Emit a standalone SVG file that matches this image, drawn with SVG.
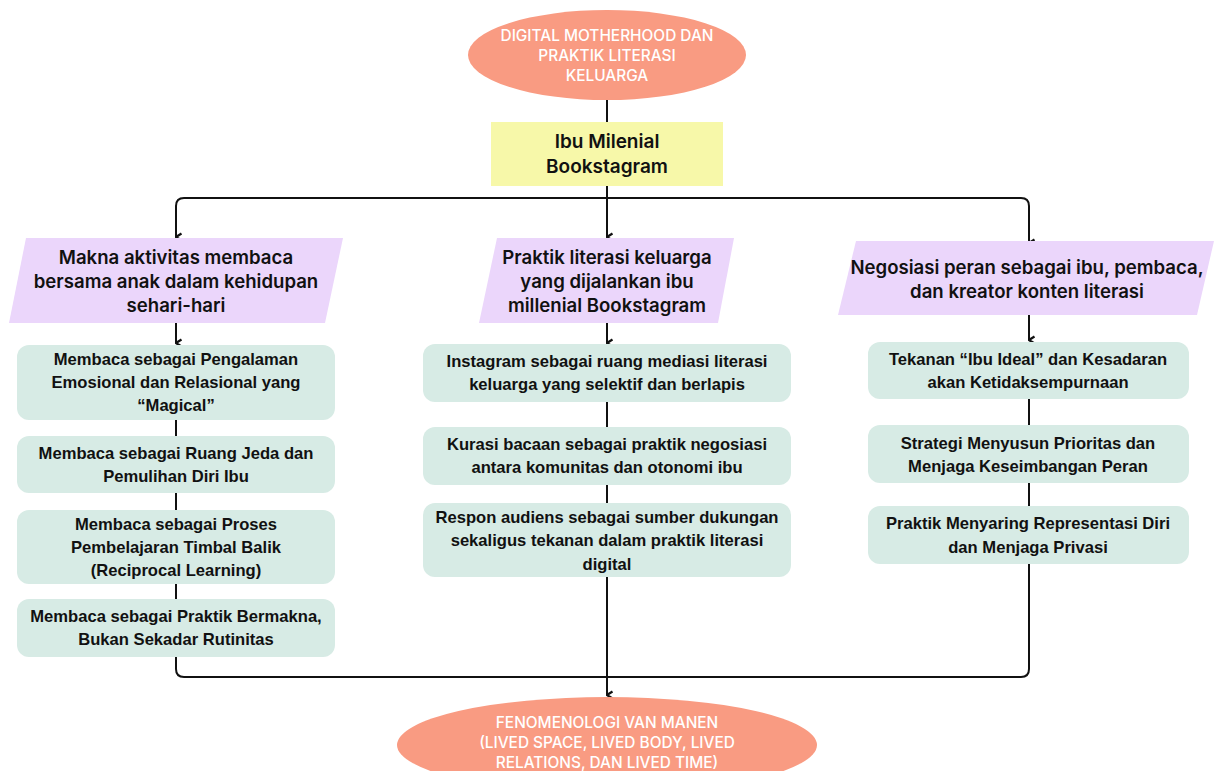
<svg xmlns="http://www.w3.org/2000/svg" width="1214" height="771" viewBox="0 0 1214 771">
<defs>
<marker id="arr" viewBox="0 0 10 10" refX="5" refY="9" markerWidth="10" markerHeight="10" markerUnits="userSpaceOnUse" orient="auto-start-reverse">
<path d="M1.5,3.5 L5,9 L8.5,3.5" fill="none" stroke="#111" stroke-width="2.2"/>
</marker>
<style>
.ell{fill:#F99B82}
.ellt{font-family:Inter,"Open Sans",sans-serif;font-size:15.4px;font-weight:500;fill:#fff;text-anchor:middle;dominant-baseline:central}
.yel{fill:#F7F8A9}
.yelt{font-family:Inter,"Open Sans",sans-serif;font-size:19px;font-weight:600;fill:#111;text-anchor:middle;dominant-baseline:central}
.par{fill:#EBD6FB}
.part{font-family:Inter,"Open Sans",sans-serif;font-size:18.6px;font-weight:600;fill:#111;text-anchor:middle;dominant-baseline:central}
.box{fill:#D7EBE5}
.boxt{font-family:"Liberation Sans",Arial,sans-serif;font-size:16.6px;font-weight:bold;fill:#111;text-anchor:middle;dominant-baseline:central}
.ln{fill:none;stroke:#111;stroke-width:2}
</style>
</defs>
<rect width="1214" height="771" fill="#fff"/>

<g id="connectors">
<path class="ln" d="M607,100 V122"/>
<path class="ln" d="M607,186 V198"/>
<path class="ln" d="M176,236 V206 Q176,198 184,198 H1021 Q1029,198 1029,206 V243" marker-end="url(#arr)"/>
<path class="ln" d="M176,236 V237" marker-end="url(#arr)"/>
<path class="ln" d="M607,198 V237" marker-end="url(#arr)"/>
<path class="ln" d="M176,323 V343" marker-end="url(#arr)"/>
<path class="ln" d="M607,323 V343" marker-end="url(#arr)"/>
<path class="ln" d="M1029,315 V340" marker-end="url(#arr)"/>
<path class="ln" d="M176,420 V436 M176,493 V510 M176,584 V599"/>
<path class="ln" d="M607,402 V427 M607,485 V503"/>
<path class="ln" d="M1029,399 V425 M1029,483 V506"/>
<path class="ln" d="M176,657 V669 Q176,677 184,677 H1021 Q1029,677 1029,669 V564"/>
<path class="ln" d="M607,577 V695" marker-end="url(#arr)"/>
</g>

<g id="top">
<ellipse class="ell" cx="607" cy="55" rx="139" ry="45"/>
<text class="ellt" x="607" y="35">DIGITAL MOTHERHOOD DAN</text>
<text class="ellt" x="607" y="55">PRAKTIK LITERASI</text>
<text class="ellt" x="607" y="75">KELUARGA</text>
</g>

<g id="ibu">
<rect class="yel" x="491" y="122" width="232" height="64"/>
<text class="yelt" x="607" y="141">Ibu Milenial</text>
<text class="yelt" x="607" y="166">Bookstagram</text>
</g>

<g id="cat1">
<polygon class="par" points="26,238 343,238 325,323 9,323"/>
<text class="part" x="176" y="257">Makna aktivitas membaca</text>
<text class="part" x="176" y="281">bersama anak dalam kehidupan</text>
<text class="part" x="176" y="305">sehari-hari</text>
</g>

<g id="cat2">
<polygon class="par" points="497,238 734,238 718,323 479,323"/>
<text class="part" x="607" y="257">Praktik literasi keluarga</text>
<text class="part" x="607" y="281">yang dijalankan ibu</text>
<text class="part" x="607" y="305">millenial Bookstagram</text>
</g>

<g id="cat3">
<polygon class="par" points="856,241 1214,241 1197,315 838,315"/>
<text class="part" x="1027" y="267">Negosiasi peran sebagai ibu, pembaca,</text>
<text class="part" x="1027" y="291">dan kreator konten literasi</text>
</g>

<g id="l1">
<rect class="box" x="17" y="345" width="318" height="75" rx="12"/>
<text class="boxt" x="176" y="359">Membaca sebagai Pengalaman</text>
<text class="boxt" x="176" y="382">Emosional dan Relasional yang</text>
<text class="boxt" x="176" y="405">“Magical”</text>
</g>
<g id="l2">
<rect class="box" x="17" y="436" width="318" height="57" rx="12"/>
<text class="boxt" x="176" y="453">Membaca sebagai Ruang Jeda dan</text>
<text class="boxt" x="176" y="476">Pemulihan Diri Ibu</text>
</g>
<g id="l3">
<rect class="box" x="17" y="510" width="318" height="74" rx="12"/>
<text class="boxt" x="176" y="524">Membaca sebagai Proses</text>
<text class="boxt" x="176" y="547">Pembelajaran Timbal Balik</text>
<text class="boxt" x="176" y="570">(Reciprocal Learning)</text>
</g>
<g id="l4">
<rect class="box" x="17" y="599" width="318" height="58" rx="12"/>
<text class="boxt" x="176" y="616">Membaca sebagai Praktik Bermakna,</text>
<text class="boxt" x="176" y="639">Bukan Sekadar Rutinitas</text>
</g>

<g id="m1">
<rect class="box" x="423" y="344" width="368" height="58" rx="12"/>
<text class="boxt" x="607" y="361">Instagram sebagai ruang mediasi literasi</text>
<text class="boxt" x="607" y="384">keluarga yang selektif dan berlapis</text>
</g>
<g id="m2">
<rect class="box" x="423" y="427" width="368" height="58" rx="12"/>
<text class="boxt" x="607" y="444">Kurasi bacaan sebagai praktik negosiasi</text>
<text class="boxt" x="607" y="467">antara komunitas dan otonomi ibu</text>
</g>
<g id="m3">
<rect class="box" x="423" y="503" width="368" height="74" rx="12"/>
<text class="boxt" x="607" y="517">Respon audiens sebagai sumber dukungan</text>
<text class="boxt" x="607" y="540">sekaligus tekanan dalam praktik literasi</text>
<text class="boxt" x="607" y="564">digital</text>
</g>

<g id="r1">
<rect class="box" x="868" y="342" width="321" height="57" rx="12"/>
<text class="boxt" x="1028" y="359">Tekanan “Ibu Ideal” dan Kesadaran</text>
<text class="boxt" x="1028" y="382">akan Ketidaksempurnaan</text>
</g>
<g id="r2">
<rect class="box" x="868" y="425" width="321" height="58" rx="12"/>
<text class="boxt" x="1028" y="443">Strategi Menyusun Prioritas dan</text>
<text class="boxt" x="1028" y="466">Menjaga Keseimbangan Peran</text>
</g>
<g id="r3">
<rect class="box" x="868" y="506" width="321" height="58" rx="12"/>
<text class="boxt" x="1028" y="523">Praktik Menyaring Representasi Diri</text>
<text class="boxt" x="1028" y="547">dan Menjaga Privasi</text>
</g>

<g id="bottom">
<ellipse class="ell" cx="607" cy="745" rx="210" ry="48"/>
<text class="ellt" x="607" y="722">FENOMENOLOGI VAN MANEN</text>
<text class="ellt" x="607" y="742">(LIVED SPACE, LIVED BODY, LIVED</text>
<text class="ellt" x="607" y="762">RELATIONS, DAN LIVED TIME)</text>
</g>
</svg>
